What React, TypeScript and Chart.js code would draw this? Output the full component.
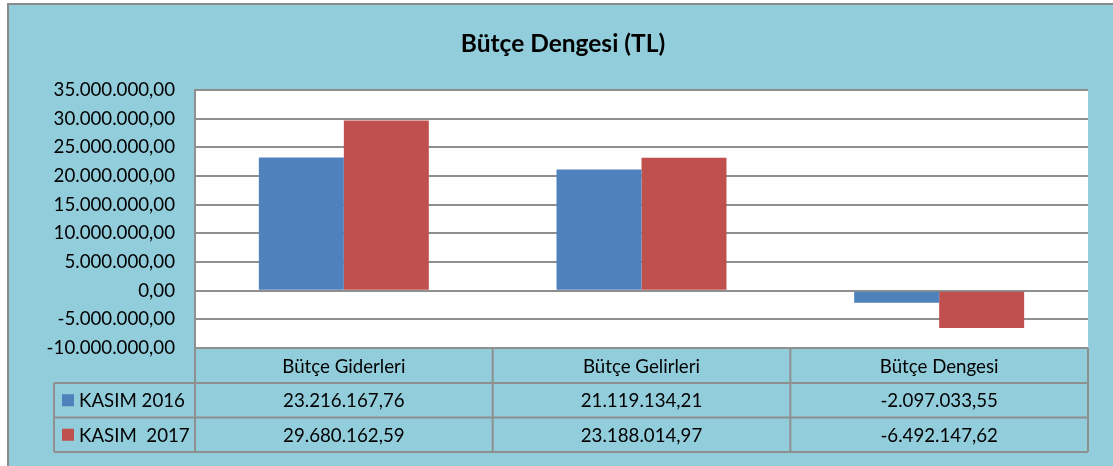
import React, { useEffect, useRef } from "react";
import { Chart, registerables } from "chart.js";

Chart.register(...registerables);

const categories = ["Bütçe Giderleri", "Bütçe Gelirleri", "Bütçe Dengesi"];
const seriesLabels = ["KASIM 2016", "KASIM  2017"];
const kasim2016 = [23216167.76, 21119134.21, -2097033.55];
const kasim2017 = [29680162.59, 23188014.97, -6492147.62];
const seriesColors = ["#4F81BD", "#C0504D"];
const yMin = -10000000;
const yMax = 35000000;
const yStep = 5000000;
const title = "Bütçe Dengesi (TL)";

const FONT = "Lato, 'Open Sans', sans-serif";
const TXT = 18.7;
const GRID = "#8f8f8f";
const BG = "#92CDDC";

function fmt(v: number): string {
  const neg = v < 0;
  const parts = Math.abs(v).toFixed(2).split(".");
  const intPart = parts[0].replace(/\B(?=(\d{3})+(?!\d))/g, ".");
  return (neg ? "-" : "") + intPart + "," + parts[1];
}

const W = 1113;
const H = 466;
const PLOT_LEFT = 195;
const PLOT_RIGHT = 1088;
const PLOT_TOP = 90;
const HEADER_H = 35;
const ROW_H = 34.5;
const LEGEND_LEFT = 54;

const framePlugin = {
  id: "frame",
  beforeDraw(chart: any) {
    const ctx = chart.ctx;
    const a = chart.chartArea;
    ctx.save();
    ctx.fillStyle = "#ffffff";
    ctx.fillRect(0, 0, W, H);
    ctx.fillStyle = BG;
    ctx.fillRect(7, 3, W, H);
    ctx.strokeStyle = "#8a8a8a";
    ctx.lineWidth = 2;
    ctx.beginPath();
    ctx.moveTo(8, H);
    ctx.lineTo(8, 4);
    ctx.lineTo(W, 4);
    ctx.stroke();
    ctx.fillStyle = "#ffffff";
    ctx.fillRect(a.left, a.top, a.right - a.left, a.bottom - a.top);
    ctx.restore();
  },
  afterDraw(chart: any) {
    const ctx = chart.ctx;
    const a = chart.chartArea;
    const xs = chart.scales.x;
    ctx.save();
    // title
    ctx.fillStyle = "#000";
    ctx.font = `bold 24.5px ${FONT}`;
    ctx.textAlign = "center";
    ctx.textBaseline = "middle";
    ctx.fillText(title, 563, 44);

    const top = a.bottom;
    const r1 = top + HEADER_H;
    const r2 = r1 + ROW_H;
    const r3 = r2 + ROW_H;
    const colW = (a.right - a.left) / categories.length;

    ctx.strokeStyle = GRID;
    ctx.lineWidth = 2;
    ctx.beginPath();
    ctx.moveTo(a.left, top);
    ctx.lineTo(a.right, top);
    [r1, r2, r3].forEach((y) => {
      ctx.moveTo(LEGEND_LEFT, y);
      ctx.lineTo(a.right, y);
    });
    ctx.moveTo(LEGEND_LEFT, r1);
    ctx.lineTo(LEGEND_LEFT, r3);
    for (let i = 0; i <= categories.length; i++) {
      const x = a.left + colW * i;
      ctx.moveTo(x, top);
      ctx.lineTo(x, r3);
    }
    ctx.stroke();

    ctx.fillStyle = "#000";
    ctx.font = `${TXT}px ${FONT}`;
    ctx.textAlign = "center";
    ctx.textBaseline = "middle";
    categories.forEach((c, i) => {
      const cx = xs.getPixelForValue(i);
      ctx.fillText(c, cx, top + HEADER_H / 2 + 1);
    });
    const rows = [kasim2016, kasim2017];
    rows.forEach((vals, ri) => {
      const cy = r1 + ROW_H * ri + ROW_H / 2 + 1;
      vals.forEach((v, i) => {
        ctx.fillStyle = "#000";
        ctx.textAlign = "center";
        ctx.fillText(fmt(v), xs.getPixelForValue(i), cy);
      });
      ctx.fillStyle = seriesColors[ri];
      ctx.fillRect(62, cy - 7, 12, 12);
      ctx.fillStyle = "#000";
      ctx.textAlign = "left";
      ctx.fillText(seriesLabels[ri], 79, cy);
    });
    ctx.restore();
  },
};

export default function App() {
  const ref = useRef<HTMLCanvasElement | null>(null);
  useEffect(() => {
    if (!ref.current) return;
    const chart = new Chart(ref.current, {
      type: "bar",
      data: {
        labels: categories,
        datasets: [
          { label: seriesLabels[0], data: kasim2016, backgroundColor: seriesColors[0] },
          { label: seriesLabels[1], data: kasim2017, backgroundColor: seriesColors[1] },
        ],
      },
      options: {
        animation: false,
        responsive: false,
        events: [],
        layout: {
          padding: { left: 0, right: W - PLOT_RIGHT, top: PLOT_TOP, bottom: H - (PLOT_TOP + 258 + HEADER_H) },
        },
        plugins: {
          legend: { display: false },
          title: { display: false },
          tooltip: { enabled: false },
        },
        datasets: {
          bar: { categoryPercentage: 0.571, barPercentage: 1.0 },
        },
        scales: {
          x: {
            grid: { display: false },
            border: { display: false },
            ticks: { display: false },
            afterFit: (s: any) => {
              s.height = HEADER_H;
            },
          },
          y: {
            min: yMin,
            max: yMax,
            ticks: {
              stepSize: yStep,
              padding: 20,
              color: "#000",
              font: { family: FONT, size: TXT },
              callback: (v: any) => fmt(Number(v)),
            },
            grid: { color: GRID, lineWidth: 2, drawTicks: false },
            border: { display: true, color: GRID, width: 2 },
            afterFit: (s: any) => {
              s.width = PLOT_LEFT;
            },
          },
        },
      },
      plugins: [framePlugin],
    } as any);
    return () => chart.destroy();
  }, []);
  return (
    <div style={{ position: "fixed", left: 0, top: 0, width: W, height: H }}>
      <canvas ref={ref} width={W} height={H} style={{ display: "block" }} />
    </div>
  );
}
